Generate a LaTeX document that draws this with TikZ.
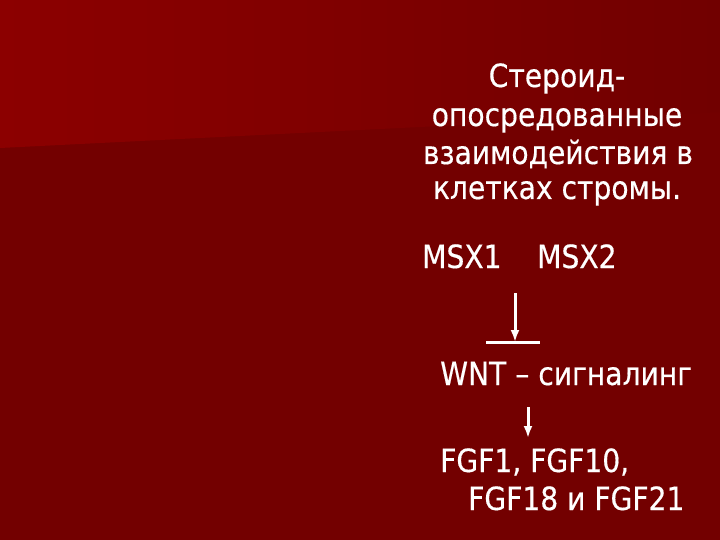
\documentclass[tikz,border=0pt]{standalone}
\usepackage{fontspec}
\setmainfont[FakeStretch=0.88,FakeBold=0.4]{DejaVu Sans}
\usetikzlibrary{arrows.meta}
\definecolor{bgdark}{RGB}{115,0,0}
\definecolor{bgleft}{RGB}{140,0,0}
\definecolor{bgright}{RGB}{113,0,0}
\tikzset{
  txt/.style={text=white, font=\fontsize{32}{38}\selectfont, inner sep=0pt},
  arr/.style={draw=white, line width=3pt, -{Latex[length=12pt,width=9pt]}},
  bar/.style={draw=white, line width=3pt},
}
\begin{document}
\begin{tikzpicture}[x=1pt,y=-1pt]
\useasboundingbox (0,0) rectangle (720,540);
\fill[bgdark] (0,0) rectangle (720,540);
\shade[left color=bgleft, right color=bgright] (0,0) -- (720,0) -- (720,112) -- (0,148) -- cycle;
% title
\node[txt, anchor=base] (t1) at (557,87) {Стероид-};
\node[txt, anchor=base] (t2) at (557,126) {опосредованные};
\node[txt, anchor=base] (t3) at (558,164) {взаимодействия в};
\node[txt, anchor=base] (t4) at (557,199) {клетках стромы.};
% genes
\node[txt, anchor=base west] (m1) at (422,268) {MSX1};
\node[txt, anchor=base west] (m2) at (537,268) {MSX2};
\coordinate (a1s) at (515,293);
\coordinate (a1e) at (515,342);
\draw[arr] (a1s) -- (a1e);
\coordinate (b1) at (486,342);
\coordinate (b2) at (540,342);
\draw[bar] (b1) -- (b2);
\node[txt, anchor=base west] (w) at (440,385) {WNT – сигналинг};
\coordinate (a2s) at (528,407);
\coordinate (a2e) at (528,438);
\draw[arr] (a2s) -- (a2e);
\node[txt, anchor=base west] (f1) at (440,472) {FGF1, FGF10,};
\node[txt, anchor=base west] (f2) at (468,510) {FGF18 и FGF21};
\end{tikzpicture}
\end{document}
